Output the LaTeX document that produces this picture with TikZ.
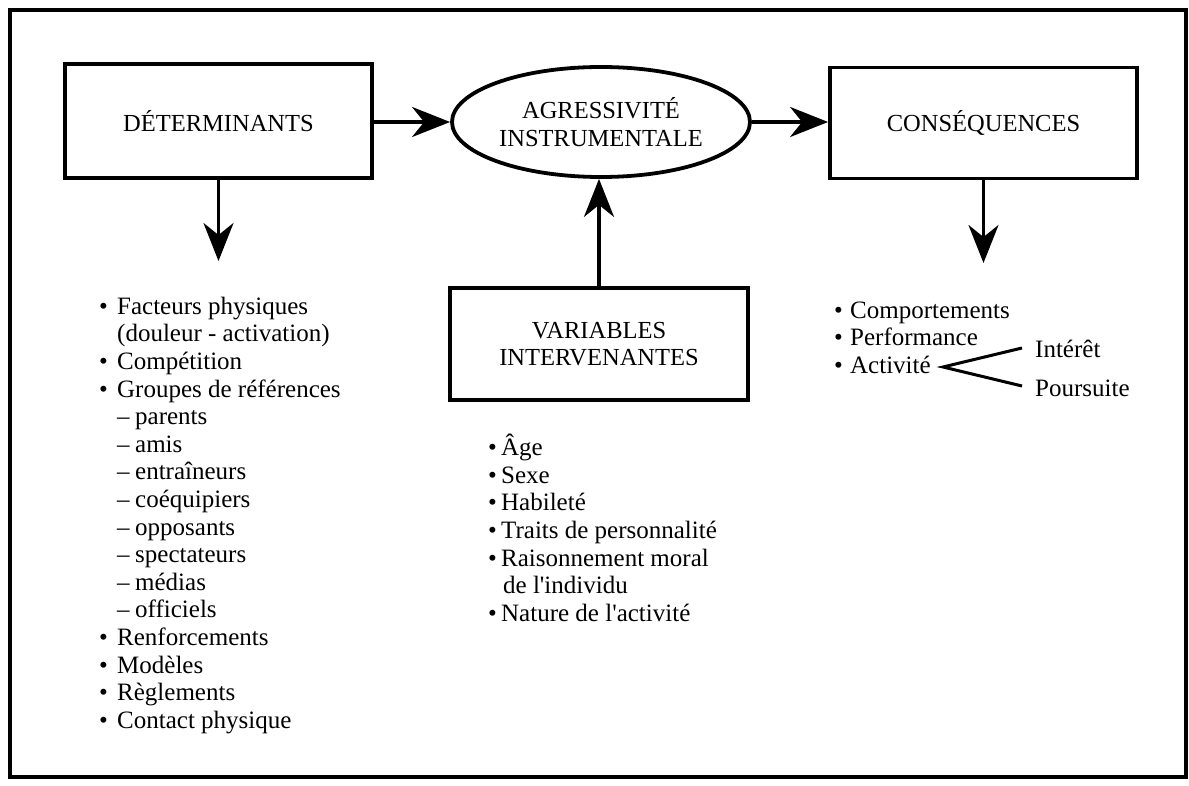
\documentclass[tikz,border=0pt]{standalone}
\usepackage{fontspec}
\setmainfont{Liberation Serif}
\usetikzlibrary{arrows.meta,shapes.geometric}

\newcommand{\headfont}{\fontsize{24.5}{27.5}\selectfont}
\newcommand{\listfont}{\fontsize{25}{27.6}\selectfont}
% bullet set in a box of the given width
\newcommand{\bul}[1]{\makebox[#1][l]{\textbullet}}
% dash item of the reference-group sub list
\newcommand{\dashitem}[1]{\hspace*{18pt}\makebox[18pt][l]{–}#1}
\newcommand{\firstline}{\rule{0pt}{20pt}}

\tikzset{
  frame/.style={line width=3.5pt},
  box/.style={draw, rectangle, line width=3.8pt, inner sep=0pt, align=center, font=\headfont},
  oval/.style={draw, ellipse, line width=3.8pt, inner sep=0pt, align=center, font=\headfont},
  link/.style={line width=3.2pt, -{Stealth[length=38pt,width=30pt,inset=12pt]}},
  branch/.style={line width=3pt},
  list/.style={anchor=north west, inner sep=0pt, align=left, font=\listfont},
  leaf/.style={anchor=base west, inner sep=0pt, font=\listfont}
}

\begin{document}
\begin{tikzpicture}[x=1pt,y=-1pt]
\useasboundingbox (0,0) rectangle (1189,786);
\draw[frame] (10,10) rectangle (1186,777);

% main chain
\node[box, minimum width=307pt, minimum height=114pt] (det) at (218.5,121) {DÉTERMINANTS};
\node[oval, minimum width=298pt, minimum height=110pt] (agr) at (601,122) {AGRESSIVITÉ\\INSTRUMENTALE};
\node[box, minimum width=307pt, minimum height=111pt] (cons) at (983.5,123) {CONSÉQUENCES};
\node[box, minimum width=298pt, minimum height=112pt] (var) at (599,344) {VARIABLES\\INTERVENANTES};

\draw[link] (agr.west -| det.east) -- (agr.west);
\draw[link] (agr.east) -- (agr.east -| cons.west);
\draw[link] (var.north) -- (var.north |- agr.south);

\coordinate (dettip) at (218.5,261);
\coordinate (constip) at (983.5,263);
\draw[link] (det.south) -- (dettip);
\draw[link] (cons.south) -- (constip);

% determinants
\node[list] (detlist) at (99,294) {\firstline\bul{18pt}Facteurs physiques\\
  \hspace*{18pt}(douleur - activation)\\
  \bul{18pt}Compétition\\
  \bul{18pt}Groupes de références\\
  \dashitem{parents}\\
  \dashitem{amis}\\
  \dashitem{entraîneurs}\\
  \dashitem{coéquipiers}\\
  \dashitem{opposants}\\
  \dashitem{spectateurs}\\
  \dashitem{médias}\\
  \dashitem{officiels}\\
  \bul{18pt}Renforcements\\
  \bul{18pt}Modèles\\
  \bul{18pt}Règlements\\
  \bul{18pt}Contact physique};

% intervening variables
\node[list] (varlist) at (488,434) {\firstline\bul{13pt}Âge\\
  \bul{13pt}Sexe\\
  \bul{13pt}Habileté\\
  \bul{13pt}Traits de personnalité\\
  \bul{13pt}Raisonnement moral\\
  \hspace*{15pt}de l\textquotesingle individu\\
  \bul{13pt}Nature de l\textquotesingle activité};

% consequences
\node[list] (conslist) at (834,298) {\firstline\bul{16pt}Comportements\\
  \bul{16pt}Performance\\
  \bul{16pt}Activité};

\node[leaf] (int) at (1035,358) {Intérêt};
\node[leaf] (pou) at (1035,396) {Poursuite};
\coordinate (fork) at (943,367);
\coordinate (forkup) at (1022,348);
\coordinate (forkdn) at (1022,386);
\draw[branch] (forkup) -- (fork) -- (forkdn);
\end{tikzpicture}
\end{document}
